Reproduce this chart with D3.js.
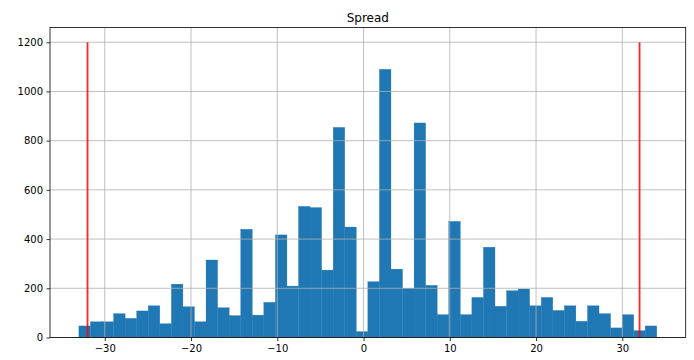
<!DOCTYPE html>
<html>
<head>
<meta charset="utf-8">
<script src="https://cdn.jsdelivr.net/npm/d3@7"></script>
<style>
  html, body { margin: 0; padding: 0; background: #fff; }
  svg { display: block; }
  text { font-family: "DejaVu Sans", sans-serif; fill: #000; }
</style>
</head>
<body>
<div id="chart"></div>
<script>
// Histogram of "Spread": 50 equal-width bins between binLow and binHigh
const binLow = -33;
const binHigh = 34;
const counts = [
  47, 64, 64, 97, 78, 108, 129, 56, 217, 125,
  64, 315, 121, 89, 440, 91, 143, 417, 209, 533,
  528, 274, 854, 449, 24, 227, 1090, 278, 200, 872,
  212, 93, 472, 93, 163, 367, 127, 190, 197, 129,
  163, 110, 129, 66, 129, 97, 39, 93, 28, 47
];
// Reference markers drawn as vertical red lines
const markerX = [-32, 32];
const markerTop = 1200;
const xTicks = [-30, -20, -10, 0, 10, 20, 30];
const yTicks = [0, 200, 400, 600, 800, 1000, 1200];
const title = "Spread";

const W = 694, H = 360;
const plot = { left: 50, right: 685.7, top: 27.5, bottom: 337.5 };

const svg = d3.select("#chart").append("svg")
  .attr("width", W).attr("height", H);

const span = binHigh - binLow;
const x = d3.scaleLinear()
  .domain([binLow - 0.05 * span, binHigh + 0.05 * span])
  .range([plot.left, plot.right]);
const y = d3.scaleLinear()
  .domain([0, markerTop * 1.05])
  .range([plot.bottom, plot.top]);

const binWidth = span / counts.length;
const bins = counts.map((c, i) => ({ x0: binLow + i * binWidth, x1: binLow + (i + 1) * binWidth, c }));

// bars
svg.append("g").selectAll("rect").data(bins).join("rect")
  .attr("x", d => x(d.x0))
  .attr("width", d => x(d.x1) - x(d.x0))
  .attr("y", d => y(d.c))
  .attr("height", d => y(0) - y(d.c))
  .attr("fill", "#1f77b4")
  .attr("stroke", "#1f77b4")
  .attr("stroke-width", 0.3);

// grid (drawn above bars)
const grid = svg.append("g").attr("stroke", "#b0b0b0").attr("stroke-width", 0.8);
grid.selectAll("line.gx").data(xTicks).join("line")
  .attr("x1", d => x(d)).attr("x2", d => x(d))
  .attr("y1", plot.top).attr("y2", plot.bottom);
grid.selectAll("line.gy").data(yTicks).join("line")
  .attr("x1", plot.left).attr("x2", plot.right)
  .attr("y1", d => y(d)).attr("y2", d => y(d));

// marker lines
svg.append("g").selectAll("line").data(markerX).join("line")
  .attr("x1", d => x(d)).attr("x2", d => x(d))
  .attr("y1", y(0)).attr("y2", y(markerTop))
  .attr("stroke", "#ff0000").attr("stroke-opacity", 0.85)
  .attr("stroke-width", 1.8);

// axes
const fmt = d => d < 0 ? "\u2212" + Math.abs(d) : String(d);
const xAxis = svg.append("g")
  .attr("transform", `translate(0,${plot.bottom})`)
  .call(d3.axisBottom(x).tickValues(xTicks).tickFormat(fmt).tickSizeOuter(0).tickSize(3.5).tickPadding(3.5));
const yAxis = svg.append("g")
  .attr("transform", `translate(${plot.left},0)`)
  .call(d3.axisLeft(y).tickValues(yTicks).tickFormat(d3.format("d")).tickSizeOuter(0).tickSize(3.5).tickPadding(3.5));
[xAxis, yAxis].forEach(g => {
  g.select(".domain").remove();
  g.selectAll(".tick line").attr("stroke", "#000").attr("stroke-width", 0.8);
  g.selectAll(".tick text").attr("font-size", 10).attr("font-family", "DejaVu Sans, sans-serif").attr("fill", "#000");
});

// frame
svg.append("rect")
  .attr("x", plot.left).attr("y", plot.top)
  .attr("width", plot.right - plot.left).attr("height", plot.bottom - plot.top)
  .attr("fill", "none").attr("stroke", "#000").attr("stroke-width", 0.8);

// title
svg.append("text")
  .attr("x", (plot.left + plot.right) / 2)
  .attr("y", plot.top - 6)
  .attr("text-anchor", "middle")
  .attr("font-size", 12)
  .text(title);
</script>
</body>
</html>
